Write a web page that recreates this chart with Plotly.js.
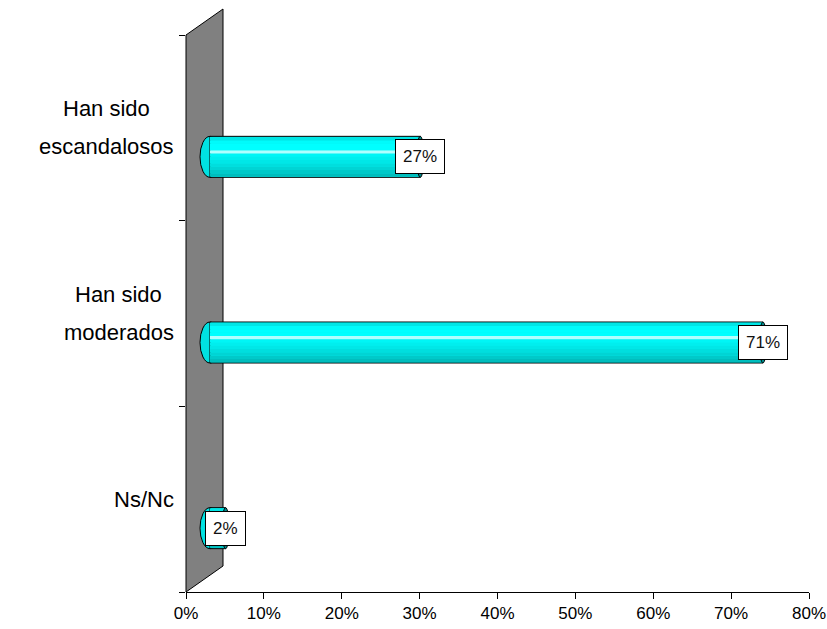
<!DOCTYPE html>
<html><head><meta charset="utf-8">
<script src="https://cdn.plot.ly/plotly-3.0.1.min.js"></script>
<style>html,body{margin:0;padding:0;background:#fff}#chart{width:827px;height:629px}</style>
</head><body><div id="chart"></div>
<script>
// ---- data ----
const categories = ['Ns/Nc', 'Han sido moderados', 'Han sido escandalosos'];
const categoryLines = [['Ns/Nc'], ['Han sido', 'moderados'], ['Han sido', 'escandalosos']];
const values = [2, 71, 27];
const valueLabels = ['2%', '71%', '27%'];
const xTickValues = [0, 10, 20, 30, 40, 50, 60, 70, 80];
const xTickLabels = ['0%', '10%', '20%', '30%', '40%', '50%', '60%', '70%', '80%'];

// ---- style / geometry ----
const W = 827, H = 629;
const M = {l: 186, r: 18, t: 35, b: 37};
const plotW = W - M.l - M.r, plotH = H - M.t - M.b;
const xMax = 80, yMax = categories.length;
const pxPerX = plotW / xMax, pxPerY = plotH / yMax;
const wallDepth = {x: 37, y: 26};
const barShift = {x: 24, y: 29};
const barThick = 41 / pxPerY;
const FONT = '"Liberation Sans", Arial, sans-serif';
const labelFontSize = 22;
const stripColors = ['#00bdbd', '#00c9c9', '#00d4d4', '#00dede', '#00e7e7', '#00eeee', '#00f5f5',
                     '#b0ffff', '#00ffff', '#00ffff', '#00fbfb', '#00e6e6'];

const pos = categories.map((c, i) => i + 0.5);
const xs = barShift.x / pxPerX, ys = barShift.y / pxPerY;

const traces = [];
traces.push({
  type: 'bar', orientation: 'h', x: values, y: pos, base: 0,
  width: barThick, offset: -barThick / 2, xaxis: 'x2', yaxis: 'y2',
  marker: {color: '#00eeee', line: {color: '#000', width: 1}}, hoverinfo: 'skip', showlegend: false
});
const N = stripColors.length;
const inner = barThick * 0.96;
for (let k = 0; k < N; k++) {
  traces.push({
    type: 'bar', orientation: 'h', x: values, y: pos, base: 0,
    width: inner / N + 0.0005, offset: -inner / 2 + k * inner / N, xaxis: 'x2', yaxis: 'y2',
    marker: {color: stripColors[k], line: {width: 0}}, hoverinfo: 'skip', showlegend: false
  });
}

const shapes = [];
shapes.push({
  type: 'path', xref: 'paper', yref: 'paper', layer: 'below',
  path: `M 0 0 L 0 1 L ${wallDepth.x / plotW} ${1 + wallDepth.y / plotH} L ${wallDepth.x / plotW} ${wallDepth.y / plotH} Z`,
  fillcolor: '#808080', line: {color: '#000', width: 1}
});
const capL = 10 / pxPerX, capR = 3.5 / pxPerX;
values.forEach((v, i) => {
  shapes.push({type: 'circle', xref: 'x2', yref: 'y2', layer: 'below',
    x0: -capL, x1: capL, y0: pos[i] - barThick / 2, y1: pos[i] + barThick / 2,
    fillcolor: '#00e2e2', line: {color: '#000', width: 1}});
  shapes.push({type: 'circle', xref: 'x2', yref: 'y2', layer: 'above',
    x0: v - capR, x1: v + capR, y0: pos[i] - barThick / 2, y1: pos[i] + barThick / 2,
    fillcolor: '#008b8b', line: {color: '#000', width: 1}});
});

const annotations = [];
values.forEach((v, i) => {
  annotations.push({xref: 'x2', yref: 'y2', x: v, y: pos[i], text: valueLabels[i], showarrow: false,
    bgcolor: '#fff', bordercolor: '#000', borderwidth: 1, borderpad: 7,
    font: {family: FONT, size: 17, color: '#111'}});
});
const cv = document.createElement('canvas').getContext('2d');
cv.font = labelFontSize + 'px "Liberation Sans"';
categoryLines.forEach((lines, i) => {
  const maxW = Math.max(...lines.map(s => cv.measureText(s).width));
  const cx = (-12 - maxW / 2) / plotW;
  lines.forEach((s, j) => {
    annotations.push({xref: 'paper', yref: 'y', x: cx, y: pos[i], xanchor: 'center', yanchor: 'middle',
      yshift: (lines.length - 1) * 19 - j * 38, text: s, showarrow: false,
      font: {family: FONT, size: labelFontSize, color: '#000'}});
  });
});

const layout = {
  width: W, height: H, margin: M, paper_bgcolor: '#fff', plot_bgcolor: 'rgba(0,0,0,0)',
  barmode: 'overlay', showlegend: false, hovermode: false,
  font: {family: FONT, color: '#000'},
  xaxis: {range: [0, xMax], tickvals: xTickValues, ticktext: xTickLabels, ticks: 'outside', ticklen: 6,
    tickcolor: '#000', showline: true, linecolor: '#000', linewidth: 1, showgrid: false, zeroline: false,
    tickfont: {family: FONT, size: 17, color: '#000'}, fixedrange: true},
  yaxis: {range: [0, yMax], tickvals: [0, 1, 2, 3], showticklabels: false, ticks: 'outside', ticklen: 6,
    tickcolor: '#000', showline: false, showgrid: false, zeroline: false, fixedrange: true},
  xaxis2: {overlaying: 'x', range: [-xs, xMax - xs], visible: false, fixedrange: true},
  yaxis2: {overlaying: 'y', range: [ys, yMax + ys], visible: false, fixedrange: true},
  shapes: shapes, annotations: annotations
};
Plotly.newPlot('chart', traces, layout, {displayModeBar: false, staticPlot: true});
</script></body></html>
